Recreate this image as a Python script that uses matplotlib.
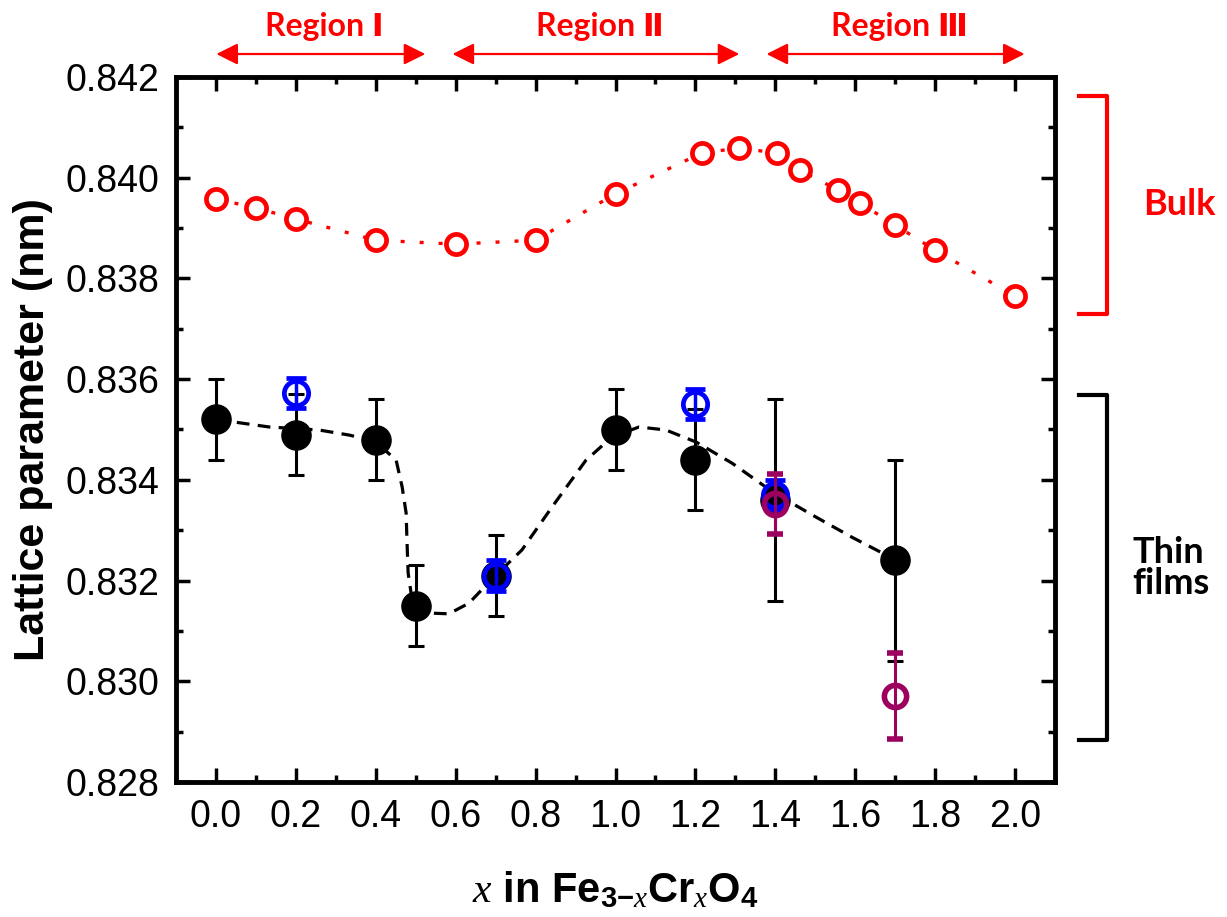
import matplotlib
matplotlib.use('Agg')
import matplotlib.pyplot as plt
import matplotlib.transforms as mtransforms
from matplotlib.ticker import MultipleLocator, FormatStrFormatter

# ---------------- data ----------------
bulk_x = [0.0, 0.1, 0.2, 0.4, 0.6, 0.8, 1.0, 1.216, 1.31, 1.403, 1.461, 1.556, 1.611, 1.70, 1.80, 2.0]
bulk_y = [0.83958, 0.83940, 0.83918, 0.83876, 0.83868, 0.83876, 0.83968, 0.84049, 0.84059,
          0.84049, 0.84015, 0.83976, 0.83950, 0.83906, 0.83856, 0.83765]

film_x = [0.0, 0.2, 0.4, 0.5, 0.7, 1.0, 1.2, 1.4, 1.7]
film_y = [0.8352, 0.8349, 0.8348, 0.8315, 0.8321, 0.8350, 0.8344, 0.8336, 0.8324]
film_err = [0.0008, 0.0008, 0.0008, 0.0008, 0.0008, 0.0008, 0.0010, 0.0020, 0.0020]

blue_x = [0.2, 0.7, 1.2, 1.4]
blue_y = [0.83573, 0.8321, 0.83551, 0.8337]
blue_err = [0.0003, 0.0003, 0.0003, 0.0003]

purple_x = [1.4, 1.7]
purple_y = [0.83352, 0.82971]
purple_err = [0.0006, 0.00085]

guide_x = [0.0, 0.133, 0.258, 0.333, 0.398, 0.451, 0.466, 0.476, 0.478, 0.481, 0.491, 0.516,
           0.583, 0.633, 0.696, 0.766, 0.841, 0.926, 0.991, 1.059, 1.126, 1.202, 1.292, 1.397,
           1.502, 1.592, 1.667, 1.7]
guide_y = [0.8352, 0.83505, 0.83499, 0.83489, 0.83477, 0.83439, 0.83386, 0.83334, 0.83281,
           0.83215, 0.83161, 0.83136, 0.83134, 0.83155, 0.83207, 0.83261, 0.83346, 0.83439,
           0.83485, 0.83505, 0.83499, 0.83475, 0.83433, 0.83374, 0.83326, 0.83286, 0.83255, 0.83243]

region_labels = ['Region \u2160', 'Region \u2161', 'Region \u2162']
region_start = [0.001, 0.592, 1.378]
region_end = [0.524, 1.310, 2.024]

# ---------------- figure ----------------
plt.rcParams['font.family'] = ['Liberation Sans', 'DejaVu Sans']
plt.rcParams['mathtext.fontset'] = 'custom'
plt.rcParams['mathtext.rm'] = 'Liberation Sans:bold'
plt.rcParams['mathtext.bf'] = 'Liberation Sans:bold'
plt.rcParams['mathtext.it'] = 'Liberation Serif:italic'

fig = plt.figure(figsize=(12.27, 9.17), dpi=100)
ax = fig.add_axes([176 / 1227, (917 - 782) / 917, 879 / 1227, 705 / 917])

RED = '#FF0000'
BLUE = '#0000FF'
PURPLE = '#9E0060'

# bulk
ax.plot(bulk_x, bulk_y, linestyle=(0, (1.2, 4.5)), lw=2.4, color=RED,
        marker='o', ms=14.5, mew=3.4, mec=RED, mfc='white', zorder=3)

# guide line for films
ax.plot(guide_x, guide_y, linestyle=(0, (4, 2.6)), lw=2.3, color='black', zorder=2)

# films
ax.errorbar(film_x, film_y, yerr=film_err, fmt='o', color='black', ms=21,
            elinewidth=2.2, capsize=6, capthick=2.2, zorder=4)
ax.errorbar(blue_x, blue_y, yerr=blue_err, fmt='o', color=BLUE, ms=17.5, mew=3.4,
            mfc='none', elinewidth=2.5, capsize=7, capthick=3, zorder=5)
ax.errorbar(purple_x, purple_y, yerr=purple_err, fmt='o', color=PURPLE, ms=16, mew=4,
            mfc='none', elinewidth=2.2, capsize=6, capthick=2.2, zorder=6)

ax.set_xlim(-0.1, 2.1)
ax.set_ylim(0.828, 0.842)
ax.xaxis.set_major_locator(MultipleLocator(0.2))
ax.xaxis.set_minor_locator(MultipleLocator(0.1))
ax.yaxis.set_major_locator(MultipleLocator(0.002))
ax.yaxis.set_minor_locator(MultipleLocator(0.001))
ax.xaxis.set_major_formatter(FormatStrFormatter('%.1f'))
ax.yaxis.set_major_formatter(FormatStrFormatter('%.3f'))

for s in ax.spines.values():
    s.set_linewidth(3.5)
ax.tick_params(which='both', direction='in', top=True, right=True, width=2.5)
ax.tick_params(which='major', length=10, pad=12, labelsize=27)
ax.tick_params(which='minor', length=5)

ax.set_ylabel('Lattice parameter (nm)', fontsize=31, fontweight='bold')
ax.yaxis.set_label_coords(-0.14, 0.5)
ax.set_xlabel(r'$x$ in Fe$_{3\mathrm{-}x}$Cr$_{x}$O$_{4}$', fontsize=30, fontweight='bold')
ax.xaxis.set_label_coords(0.5, -0.170)
ax.xaxis.label.set_va('baseline')

# region arrows
for lab, x0, x1 in zip(region_labels, region_start, region_end):
    ax.annotate('', xy=(x1, 1.0326), xytext=(x0, 1.0326),
                xycoords=('data', 'axes fraction'), textcoords=('data', 'axes fraction'),
                arrowprops=dict(arrowstyle='<|-|>,head_length=1.3,head_width=0.65',
                                color=RED, lw=1.6, shrinkA=0, shrinkB=0, mutation_scale=10),
                annotation_clip=False)
    ax.text((x0 + x1) / 2 + 0.01, 1.071, lab, transform=ax.get_xaxis_transform(),
            ha='center', va='center', color=RED, fontsize=23, fontweight='bold',
            family=['Lato', 'DejaVu Sans'], clip_on=False)

# brackets
btr = mtransforms.blended_transform_factory(ax.transAxes, ax.transData)
ax.plot([1.0273, 1.0592, 1.0592, 1.0273], [0.84162, 0.84162, 0.83729, 0.83729],
        color=RED, lw=3, transform=btr, clip_on=False, solid_joinstyle='round')
ax.plot([1.0273, 1.0592, 1.0592, 1.0273], [0.83569, 0.83569, 0.82883, 0.82883],
        color='black', lw=3, transform=btr, clip_on=False, solid_joinstyle='round')
ax.text(1.1001, 0.83946, 'Bulk', transform=btr, ha='left', va='center', color=RED,
        fontsize=26, fontweight='bold', family=['Lato', 'DejaVu Sans'])
ax.text(1.0876, 0.83225, 'Thin\nfilms', transform=btr, ha='left', va='center', color='black',
        fontsize=26, fontweight='bold', family=['Lato', 'DejaVu Sans'], linespacing=0.95)

fig.savefig('out.png', dpi=100)
